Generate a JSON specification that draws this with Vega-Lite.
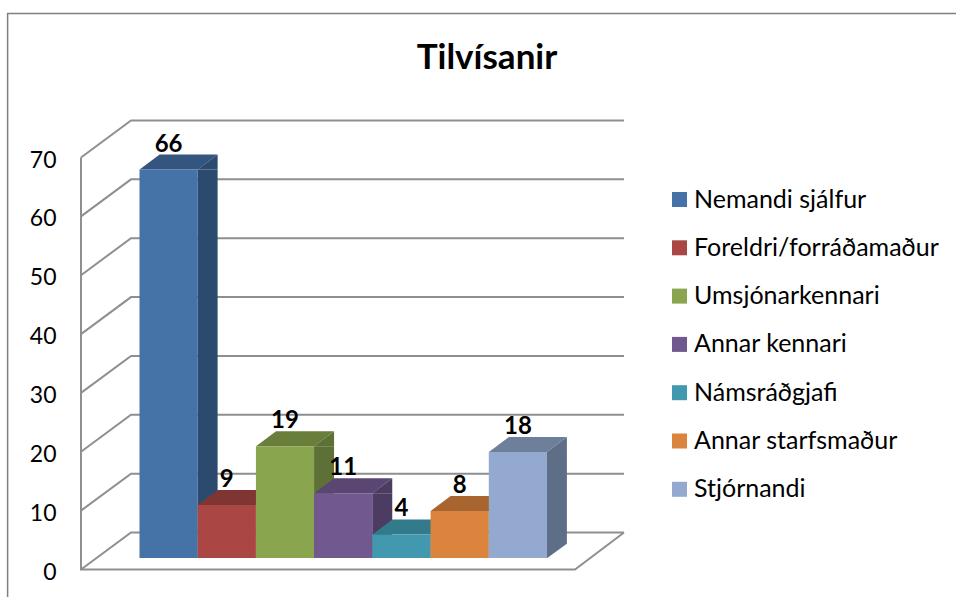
{"$schema":"https://vega.github.io/schema/vega-lite/v6.json","width":956,"height":597,"padding":0,"autosize":"none","background":"white","config":{"view":{"stroke":null}},"title":{"text":"Tilvísanir","font":"Lato","fontSize":35,"fontWeight":"bold","color":"#000000","anchor":"middle","frame":"group","dx":9,"dy":80},"datasets":{"bars":[{"source":"Nemandi sjálfur","count":66},{"source":"Foreldri/forráðamaður","count":9},{"source":"Umsjónarkennari","count":19},{"source":"Annar kennari","count":11},{"source":"Námsráðgjafi","count":4},{"source":"Annar starfsmaður","count":8},{"source":"Stjórnandi","count":18}]},"resolve":{"scale":{"color":"independent"}},"layer":[{"data":{"values":[{"tick":0}]},"mark":{"type":"point","filled":false,"opacity":1,"size":4,"stroke":"#7f7f7f","strokeWidth":1.5,"shape":"M-161,39 L-161,-544.5 L800,-544.5"},"encoding":{"x":{"datum":"Nemandi sjálfur","type":"nominal","axis":null,"scale":{"domain":["Nemandi sjálfur","Foreldri/forráðamaður","Umsjónarkennari","Annar kennari","Námsráðgjafi","Annar starfsmaður","Stjórnandi"],"range":[139.5,547],"paddingInner":0,"paddingOuter":0}},"y":{"field":"tick","type":"quantitative","title":null,"scale":{"domain":[0,70],"range":[558,146],"nice":false},"axis":{"values":[0,10,20,30,40,50,60,70],"domain":false,"ticks":false,"grid":false,"offset":-81,"labelPadding":25,"labelOffset":14,"labelFont":"Lato","labelFontSize":23,"labelColor":"#000000"}}}},{"data":{"values":[{"tick":0}]},"mark":{"type":"point","filled":false,"opacity":1,"size":4,"stroke":"#8f8f8f","strokeWidth":2,"shape":"M-87.6,-400.5 L-87.6,11.5 L406.4,11.5 L455.4,-25.5"},"encoding":{"x":{"datum":"Nemandi sjálfur","type":"nominal"},"y":{"field":"tick","type":"quantitative","title":null}}},{"data":{"values":[{"tick":0},{"tick":10},{"tick":20},{"tick":30},{"tick":40},{"tick":50},{"tick":60},{"tick":70}]},"mark":{"type":"point","filled":false,"opacity":1,"size":4,"stroke":"#8f8f8f","strokeWidth":2,"shape":"M-87.6,11.5 L-37.6,-25.5 L455.4,-25.5"},"encoding":{"x":{"datum":"Nemandi sjálfur","type":"nominal"},"y":{"field":"tick","type":"quantitative","title":null}}},{"data":{"name":"bars"},"mark":{"type":"bar","width":20,"xOffset":39},"encoding":{"x":{"field":"source","type":"nominal"},"y":{"field":"count","type":"quantitative","title":null},"color":{"field":"source","type":"nominal","legend":null,"sort":null,"scale":{"domain":["Nemandi sjálfur","Foreldri/forráðamaður","Umsjónarkennari","Annar kennari","Námsráðgjafi","Annar starfsmaður","Stjórnandi"],"range":["#2c4a6e","#6e2f2d","#5d7035","#4d3c62","#2c6877","#955a29","#5f6e87"]}}}},{"data":{"name":"bars"},"mark":{"type":"point","filled":true,"opacity":1,"size":4,"stroke":null,"shape":"M29,0 L49,-15 L49,0 Z"},"encoding":{"x":{"field":"source","type":"nominal"},"y":{"field":"count","type":"quantitative","title":null},"color":{"field":"source","type":"nominal","legend":null,"sort":null,"scale":{"domain":["Nemandi sjálfur","Foreldri/forráðamaður","Umsjónarkennari","Annar kennari","Námsráðgjafi","Annar starfsmaður","Stjórnandi"],"range":["#2c4a6e","#6e2f2d","#5d7035","#4d3c62","#2c6877","#955a29","#5f6e87"]}}}},{"data":{"values":[{"tick":0,"source":"Stjórnandi"}]},"mark":{"type":"point","filled":true,"opacity":1,"size":4,"fill":"#ffffff","stroke":null,"shape":"M28,1 L50,1 L50,-15 Z"},"encoding":{"x":{"field":"source","type":"nominal"},"y":{"field":"tick","type":"quantitative","title":null}}},{"data":{"name":"bars"},"mark":{"type":"point","filled":true,"opacity":1,"size":4,"stroke":null,"shape":"M-29,0 L29.2,0 L49,-15 L-9,-15 Z"},"encoding":{"x":{"field":"source","type":"nominal"},"y":{"field":"count","type":"quantitative","title":null},"color":{"field":"source","type":"nominal","legend":null,"sort":null,"scale":{"domain":["Nemandi sjálfur","Foreldri/forráðamaður","Umsjónarkennari","Annar kennari","Námsráðgjafi","Annar starfsmaður","Stjórnandi"],"range":["#34557f","#803533","#6a7e3c","#5a4672","#337a8b","#a8652f","#6e7f9c"]}}}},{"data":{"name":"bars"},"mark":{"type":"bar"},"encoding":{"x":{"field":"source","type":"nominal"},"y":{"field":"count","type":"quantitative","title":null},"color":{"field":"source","type":"nominal","sort":null,"scale":{"domain":["Nemandi sjálfur","Foreldri/forráðamaður","Umsjónarkennari","Annar kennari","Námsráðgjafi","Annar starfsmaður","Stjórnandi"],"range":["#4572a7","#aa4643","#89a54e","#71588f","#4198af","#db843d","#93a9cf"]},"legend":{"title":null,"orient":"none","legendX":667,"legendY":187,"symbolType":"square","symbolSize":225,"symbolStrokeWidth":0,"symbolOpacity":1,"rowPadding":22.3,"labelFont":"Lato","labelFontSize":25,"labelColor":"#000000","labelOffset":2,"labelLimit":400}}}},{"data":{"name":"bars"},"mark":{"type":"text","font":"Lato","fontSize":24,"fontWeight":"bold","color":"#000000","yOffset":-25,"dx":0},"encoding":{"x":{"field":"source","type":"nominal"},"y":{"field":"count","type":"quantitative","title":null},"text":{"field":"count","type":"quantitative"}}}]}
